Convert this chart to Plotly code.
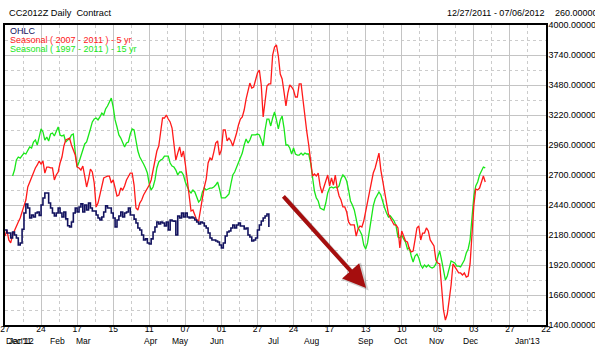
import plotly.graph_objects as go

# ---------------- data (x = trading-day index from 12/27/2011) ----------------
tick_days = [0, 19, 38, 57, 76, 95, 114, 133, 152, 171, 190, 209, 228, 247, 266, 285]
tick_labels = ["27", "24", "17", "15", "11", "07", "01", "27", "24", "17", "13", "10", "05", "03", "27", "22"]

month_labels = ["Dec'11", "Jan'12", "Feb", "Mar", "Apr", "May", "Jun", "Jul", "Aug", "Sep", "Oct", "Nov", "Dec", "Jan'13"]
month_days = [7.6, 8.6, 27.4, 41.1, 76.4, 92.2, 111.7, 141.2, 161.2, 189.7, 208.6, 227.6, 245.5, 275.0]

ohlc_start = 0
ohlc_close = [
    2223, 2197, 2197, 2154, 2206, 2180, 2154, 2093, 2111, 2230,
    2371, 2449, 2414, 2327, 2353, 2336, 2371, 2379, 2350, 2440,
    2501, 2544, 2544, 2457, 2414, 2371, 2345, 2371, 2414, 2371,
    2336, 2379, 2320, 2260, 2249, 2293, 2371, 2414, 2379, 2423,
    2450, 2379, 2440, 2397, 2457, 2414, 2388, 2388, 2353, 2327,
    2310, 2336, 2379, 2432, 2414, 2414, 2371, 2327, 2249, 2310,
    2345, 2379, 2336, 2371, 2379, 2414, 2353, 2353, 2318, 2284,
    2241, 2223, 2180, 2137, 2146, 2111, 2102, 2146, 2206, 2249,
    2293, 2275, 2293, 2284, 2258, 2293, 2223, 2310, 2301, 2300,
    2180, 2345, 2327, 2371, 2336, 2371, 2336, 2327, 2336, 2327,
    2310, 2293, 2275, 2293, 2284, 2258, 2241, 2197, 2154, 2137,
    2137, 2128, 2119, 2093, 2067, 2111, 2171, 2206, 2215, 2241,
    2267, 2241, 2267, 2284, 2258, 2258, 2232, 2241, 2180, 2163,
    2128, 2137, 2154, 2223, 2267, 2301, 2327, 2345, 2362, 2249,
]

seasonal5_start = 0
seasonal5 = [
    2171, 2223, 2137, 2111, 2180, 2223, 2267, 2293, 2327, 2379,
    2440, 2483, 2596, 2639, 2683, 2717, 2761, 2787, 2821, 2795,
    2821, 2717, 2769, 2769, 2761, 2761, 2657, 2700, 2726, 2804,
    2856, 2951, 3003, 3012, 3020, 2960, 2917, 2873, 2769, 2761,
    2743, 2778, 2691, 2596, 2665, 2752, 2726, 2631, 2423, 2457,
    2527, 2596, 2674, 2683, 2691, 2691, 2631, 2657, 2579, 2518,
    2527, 2587, 2570, 2605, 2657, 2683, 2717, 2717, 2613, 2414,
    2397, 2457, 2483, 2527, 2553, 2587, 2613, 2657, 2743, 2830,
    2908, 2951, 3090, 3194, 3194, 3220, 3185, 3160, 3107, 2960,
    2830, 2890, 2943, 2856, 2908, 2795, 2639, 2483, 2388, 2397,
    2353, 2310, 2301, 2397, 2527, 2596, 2665, 2804, 2847, 2830,
    2899, 2977, 2995, 2873, 2917, 3090, 3090, 2995, 3020, 2995,
    2951, 3003, 3064, 3133, 3185, 3203, 3263, 3358, 3419, 3497,
    3454, 3463, 3523, 3584, 3610, 3480, 3203, 3350, 3471, 3489,
    3489, 3740, 3809, 3827, 3731, 3575, 3532, 3419, 3298, 3410,
    3480, 3463, 3437, 3376, 3376, 3489, 3489, 3350, 3194, 3073,
    2960, 2804, 2691, 2709, 2691, 2717, 2605, 2544, 2596, 2648,
    2700, 2605, 2674, 2613, 2700, 2587, 2518, 2483, 2423, 2423,
    2379, 2293, 2267, 2267, 2267, 2171, 2232, 2258, 2249, 2301,
    2379, 2466, 2561, 2613, 2717, 2761, 2830, 2890, 2743, 2648,
    2570, 2449, 2362, 2327, 2293, 2267, 2267, 2241, 2067, 2215,
    2171, 2128, 2119, 2059, 2033, 2041, 2137, 2241, 2258, 2137,
    2197, 2197, 2241, 2215, 2137, 2111, 2085, 1963, 1937, 1929,
    1703, 1530, 1443, 1495, 1617, 1747, 1929, 1903, 1868, 1851,
    1851, 1833, 1851, 1816, 1825, 1929, 2180, 2440, 2579, 2570,
    2587, 2631, 2691, 2639,
]

seasonal15_start = 4
seasonal15 = [
    2691, 2743, 2830, 2856, 2847, 2864, 2890, 2882, 2908, 2943,
    2934, 2986, 3003, 2960, 3029, 3099, 3073, 3003, 3029, 2995,
    3055, 3064, 3038, 3081, 3116, 3047, 3038, 3047, 2986, 3003,
    3012, 3047, 3055, 2899, 2769, 2813, 2864, 2899, 2969, 2986,
    3055, 3099, 3160, 3185, 3194, 3177, 3203, 3237, 3220, 3272,
    3298, 3341, 3367, 3289, 3177, 3116, 3047, 3020, 2986, 2943,
    2977, 2986, 3055, 3099, 3090, 2995, 2908, 2856, 2830, 2795,
    2761, 2717, 2622, 2570, 2596, 2657, 2761, 2813, 2830, 2839,
    2864, 2864, 2864, 2804, 2778, 2769, 2743, 2700, 2726, 2726,
    2700, 2639, 2605, 2561, 2544, 2570, 2553, 2501, 2466, 2483,
    2553, 2587, 2570, 2579, 2587, 2587, 2596, 2613, 2639, 2579,
    2501, 2501, 2501, 2518, 2536, 2622, 2700, 2726, 2769, 2813,
    2856, 2890, 2960, 3012, 2977, 3003, 3047, 3047, 3047, 3055,
    3047, 3003, 2951, 3090, 3185, 3185, 3125, 3194, 3246, 3177,
    3099, 3177, 3211, 3107, 2960, 2960, 2934, 2882, 2934, 2882,
    2873, 2873, 2890, 2873, 2890, 2882, 2882, 2804, 2683, 2561,
    2501, 2475, 2414, 2405, 2397, 2457, 2544, 2587, 2596, 2587,
    2596, 2587, 2605, 2665, 2700, 2683, 2648, 2570, 2475, 2440,
    2397, 2319, 2241, 2215, 2180, 2093, 2059, 2111, 2215, 2336,
    2432, 2492, 2527, 2553, 2527, 2466, 2414, 2371, 2336, 2345,
    2327, 2301, 2258, 2163, 2154, 2180, 2146, 2119, 2059, 2067,
    1998, 1946, 1998, 2015, 1980, 1920, 1894, 1920, 1903, 1920,
    1903, 1894, 1903, 1929, 1989, 2041, 1963, 1868, 1790, 1825,
    1894, 1955, 1946, 1937, 1911, 1911, 1903, 1929, 1963, 2024,
    2059, 2137, 2310, 2518, 2605, 2639, 2700, 2743, 2769, 2761,
]

legend_labels = ["OHLC", "Seasonal ( 2007 - 2011 ) - 5 yr", "Seasonal ( 1997 - 2011 ) - 15 yr"]
title_text = "CC2012Z Daily  Contract"
range_text = "12/27/2011 - 07/06/2012"
step_text = "260.00000"

NAVY = "#12125e"
RED = "#ff1a1a"
GREEN = "#19e619"
FONT = "Liberation Sans, Arial, sans-serif"

fig = go.Figure()
fig.add_trace(go.Scatter(
    x=[seasonal15_start + i for i in range(len(seasonal15))], y=seasonal15,
    mode="lines", line=dict(color=GREEN, width=1.3), hoverinfo="skip"))
fig.add_trace(go.Scatter(
    x=[seasonal5_start + i for i in range(len(seasonal5))], y=seasonal5,
    mode="lines", line=dict(color=RED, width=1.3), hoverinfo="skip"))
fig.add_trace(go.Scatter(
    x=[ohlc_start + i for i in range(len(ohlc_close))], y=ohlc_close,
    mode="lines", line=dict(color=NAVY, width=1.6, shape="hv"), hoverinfo="skip"))

ann = []
# header
ann.append(dict(text=title_text, x=2 / 541, y=1 + 12 / 300, xref="paper", yref="paper",
                xanchor="left", yanchor="middle", showarrow=False,
                font=dict(size=9.2, color="black", family=FONT)))
ann.append(dict(text=range_text, x=440 / 541, y=1 + 12 / 300, xref="paper", yref="paper",
                xanchor="left", yanchor="middle", showarrow=False,
                font=dict(size=9, color="black", family=FONT)))
ann.append(dict(text=step_text, x=548 / 541, y=1 + 12 / 300, xref="paper", yref="paper",
                xanchor="left", yanchor="middle", showarrow=False,
                font=dict(size=9, color="black", family=FONT)))
# legend-like coloured labels
for lab, col, yy in zip(legend_labels, [NAVY, RED, GREEN], [0, 1, 2]):
    ann.append(dict(text=lab, font=dict(color=col, size=9, family=FONT),
                    x=3 / 541, y=1 - (6 + 9.2 * yy) / 300, xref="paper", yref="paper",
                    xanchor="left", yanchor="middle", showarrow=False))
# month labels
for lab, d in zip(month_labels, month_days):
    ann.append(dict(text=lab, x=d, y=-16 / 300, xref="x", yref="paper",
                    xanchor="center", yanchor="middle", showarrow=False,
                    font=dict(size=8.5, color="black", family=FONT)))
# arrow shadow + arrow
ann.append(dict(x=191.6, y=1700, xref="x", yref="y", ax=-84, ay=-93, showarrow=True,
                arrowhead=2, arrowsize=1.15, arrowwidth=4.5, arrowcolor="rgba(0,0,0,0.18)", text=""))
ann.append(dict(x=190.2, y=1721, xref="x", yref="y", ax=-84, ay=-93, showarrow=True,
                arrowhead=2, arrowsize=1.15, arrowwidth=4, arrowcolor="#a50e0e", text=""))

fig.update_layout(
    width=595, height=355,
    margin=dict(l=5, r=49, t=25, b=30),
    paper_bgcolor="white", plot_bgcolor="white",
    showlegend=False,
    font=dict(family=FONT, size=9, color="black"),
    annotations=ann,
    xaxis=dict(
        range=[0, 285], tickmode="array", tickvals=tick_days, ticktext=tick_labels,
        showgrid=True, gridcolor="#c4c4c4", gridwidth=1,
        minor=dict(tick0=9.5, dtick=19, showgrid=True, gridcolor="#cccccc", griddash="dot", gridwidth=1),
        showline=True, linecolor="black", linewidth=1.5, mirror=True,
        ticks="", zeroline=False, automargin=False, ticklabelstandoff=-5,
        tickfont=dict(size=8.5, family=FONT, color="black"),
    ),
    yaxis=dict(
        range=[1400, 4000], tickmode="linear", tick0=1400, dtick=260, tickformat=".5f",
        side="right", showgrid=True, gridcolor="#c4c4c4", gridwidth=1,
        minor=dict(tick0=1530, dtick=260, showgrid=True, gridcolor="#cccccc", griddash="dot", gridwidth=1),
        showline=True, linecolor="black", linewidth=1.5, mirror=True,
        ticks="", zeroline=False, automargin=False, ticklabelstandoff=-1,
        tickfont=dict(size=9, family=FONT, color="black"),
    ),
)

fig.write_html("out.html", config={"displayModeBar": False},
               post_script="document.body.style.margin='0px';")
